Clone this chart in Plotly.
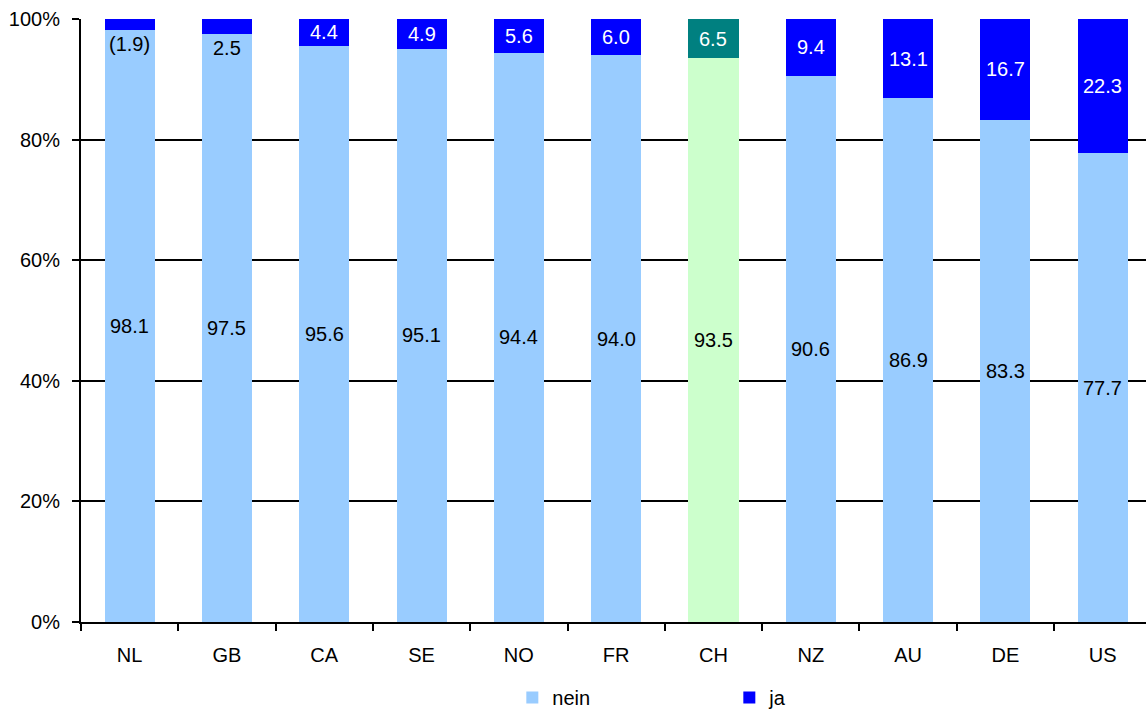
import plotly.graph_objects as go

# Anteile in Prozent je Land
laender = ["NL", "GB", "CA", "SE", "NO", "FR", "CH", "NZ", "AU", "DE", "US"]
nein = [98.1, 97.5, 95.6, 95.1, 94.4, 94.0, 93.5, 90.6, 86.9, 83.3, 77.7]
ja = [1.9, 2.5, 4.4, 4.9, 5.6, 6.0, 6.5, 9.4, 13.1, 16.7, 22.3]
unsicher = ["NL"]  # Werte in Klammern
hervorgehoben = "CH"
y_ticks = [0, 20, 40, 60, 80, 100]
y_ticktext = [f"{v}%" for v in y_ticks]

FONT = "Liberation Sans, Arial, sans-serif"
NEIN_FARBE, JA_FARBE = "#99CCFF", "#0000FF"
CH_NEIN_FARBE, CH_JA_FARBE = "#CCFFCC", "#008080"

nein_farben = [CH_NEIN_FARBE if l == hervorgehoben else NEIN_FARBE for l in laender]
ja_farben = [CH_JA_FARBE if l == hervorgehoben else JA_FARBE for l in laender]

fig = go.Figure()
fig.add_trace(go.Bar(x=laender, y=nein, name="nein", marker=dict(color=nein_farben, line=dict(width=0)),
                     width=0.515, hoverinfo="x+y"))
fig.add_trace(go.Bar(x=laender, y=ja, name="ja", marker=dict(color=ja_farben, line=dict(width=0)),
                     width=0.515, hoverinfo="x+y"))

annotations = []
for l, n, j in zip(laender, nein, ja):
    annotations.append(dict(x=l, y=n / 2, text=f"{n:.1f}", showarrow=False,
                            font=dict(family=FONT, size=20, color="black")))
    txt = f"({j:.1f})" if l in unsicher else f"{j:.1f}"
    if j >= 4:
        annotations.append(dict(x=l, y=n + j / 2, text=txt, showarrow=False,
                                font=dict(family=FONT, size=20, color="white")))
    else:
        annotations.append(dict(x=l, y=n, text=txt, showarrow=False, yanchor="top", yshift=-1,
                                font=dict(family=FONT, size=20, color="black")))

fig.update_layout(
    barmode="stack",
    width=1146, height=713,
    margin=dict(l=81, r=0, t=19, b=91, autoexpand=False),
    paper_bgcolor="white", plot_bgcolor="white",
    font=dict(family=FONT, size=20, color="black"),
    annotations=annotations,
    showlegend=True,
    legend=dict(orientation="h", x=0.405, xanchor="left", y=-0.125, yanchor="middle",
                font=dict(family=FONT, size=20, color="black"),
                entrywidth=172, entrywidthmode="pixels", itemwidth=30,
                traceorder="normal"),
    xaxis=dict(type="category", range=[-0.5, 10.445], showgrid=False, automargin=False,
               showline=True, linecolor="black", linewidth=2,
               ticks="outside", tickson="boundaries", ticklen=7, tickwidth=2, tickcolor="black",
               tickfont=dict(family=FONT, size=20, color="black"), ticklabelstandoff=14),
    yaxis=dict(range=[0, 100], tickmode="array", tickvals=y_ticks, ticktext=y_ticktext,
               showgrid=True, gridcolor="black", gridwidth=1.5, automargin=False,
               showline=True, linecolor="black", linewidth=2, zeroline=False,
               ticks="outside", ticklen=7, tickwidth=2, tickcolor="black",
               tickfont=dict(family=FONT, size=20, color="black"), ticklabelstandoff=8),
)

fig.write_html("out.html")
